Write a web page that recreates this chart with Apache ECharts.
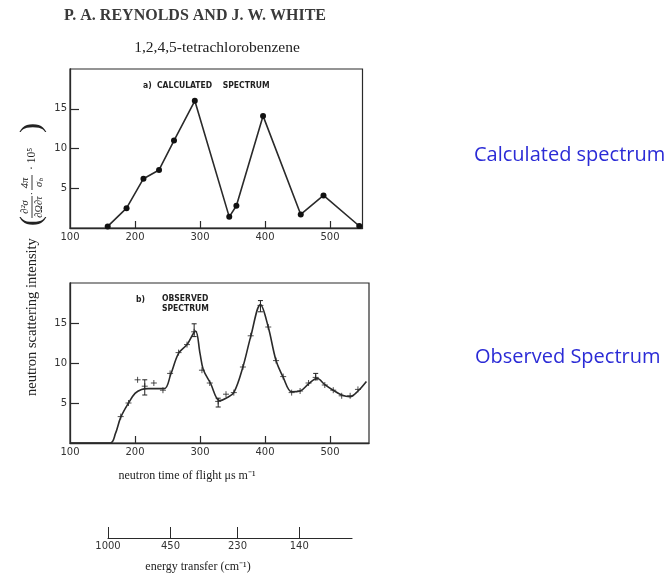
<!DOCTYPE html>
<html>
<head>
<meta charset="utf-8">
<script src="https://cdn.jsdelivr.net/npm/echarts@6/dist/echarts.min.js"></script>
<style>html,body{margin:0;padding:0;background:#fff}#c{width:665px;height:573px}</style>
</head>
<body>
<div id="c"></div>
<script>
// ---- data ----
const calcX = [158, 187, 213, 237, 260, 292, 345, 356, 397, 455, 490, 545];
const calcY = [0.2, 2.5, 6.2, 7.3, 11.0, 16.0, 1.4, 2.8, 14.1, 1.7, 4.1, 0.25];

const obsCurveX = [100, 162, 170, 178, 190, 200, 210, 220, 245, 255, 267, 280, 293, 300, 305, 316, 330, 340, 352, 366, 378, 393, 405, 417, 428, 441, 454, 467, 480, 492, 505, 518, 531, 543, 556];
const obsCurveY = [0, 0, 1.2, 3.2, 5.0, 6.2, 6.7, 6.8, 6.8, 8.6, 11.2, 12.3, 14.0, 11.2, 9.2, 7.5, 5.3, 5.6, 6.3, 9.5, 13.3, 17.3, 14.5, 10.3, 8.2, 6.4, 6.5, 7.4, 8.1, 7.3, 6.6, 6.0, 5.8, 6.5, 7.7];

const obsPtsX = [178, 190, 204, 215, 229, 243, 254, 267, 280, 291, 303, 315, 328, 340, 352, 366, 378, 393, 405, 417, 428, 441, 454, 467, 478, 492, 505, 518, 531, 543];
const obsPtsY = [3.3, 5.0, 7.9, 7.1, 7.5, 6.6, 8.7, 11.3, 12.3, 13.9, 9.1, 7.5, 5.2, 6.1, 6.3, 9.5, 13.4, 17.2, 14.5, 10.3, 8.3, 6.3, 6.5, 7.5, 8.2, 7.25, 6.6, 5.9, 5.9, 6.7];

const errX  = [215, 291, 328, 393, 478];
const errLo = [6.0, 13.3, 4.5, 16.4, 7.9];
const errHi = [7.9, 14.9, 5.6, 17.8, 8.7];

const tofTicks = [200, 300, 400, 500];
const tofLabels = [100, 200, 300, 400, 500];
const intensityTicks = [5, 10, 15];

const energyTof = [158, 254, 357, 452];
const energyLabels = ['1000', '450', '230', '140'];

// ---- chart ----
const ink = '#2a2a2a';
const chart = echarts.init(document.getElementById('c'), null, {renderer: 'canvas'});

function tofAxis(grid, max) {
  return {
    type: 'value', gridIndex: grid, min: 100, max: max, interval: 100,
    axisLine: {show: true, lineStyle: {color: ink, width: 1.3}},
    axisTick: {show: true, inside: true, length: 7, customValues: tofTicks, lineStyle: {color: ink, width: 1.2}},
    axisLabel: {customValues: tofLabels, fontSize: 10, margin: 4, color: '#333', fontFamily: 'DejaVu Sans'},
    splitLine: {show: false}
  };
}
function intAxis(grid) {
  return {
    type: 'value', gridIndex: grid, min: 0, max: 20, interval: 5,
    axisLine: {show: true, lineStyle: {color: ink, width: 1.3}},
    axisTick: {show: true, inside: true, length: 9, customValues: intensityTicks, lineStyle: {color: ink, width: 1.2}},
    axisLabel: {customValues: intensityTicks, fontSize: 10, margin: 3, color: '#333', fontFamily: 'DejaVu Sans'},
    splitLine: {show: false}
  };
}

const plus = 'path://M0,5L10,5M5,0L5,10';
const serif = '"Liberation Serif"';

const option = {
  backgroundColor: '#fff',
  animation: false,
  grid: [
    {left: 70, top: 69, width: 292.5, height: 159, show: true, borderColor: ink, borderWidth: 1.2},
    {left: 70, top: 283, width: 299, height: 160, show: true, borderColor: ink, borderWidth: 1.2},
    {left: 108, top: 528, width: 244, height: 10, show: false}
  ],
  xAxis: [
    tofAxis(0, 550),
    tofAxis(1, 560),
    {
      type: 'value', gridIndex: 2, min: 158, max: 533,
      axisLine: {show: true, lineStyle: {color: ink, width: 1.2}},
      axisTick: {show: true, inside: true, length: 11, customValues: energyTof, lineStyle: {color: ink, width: 1}},
      axisLabel: {customValues: energyTof, fontSize: 10, margin: 3, color: '#333', fontFamily: 'DejaVu Sans',
        formatter: v => energyLabels[energyTof.indexOf(v)]},
      splitLine: {show: false}
    }
  ],
  yAxis: [
    intAxis(0),
    intAxis(1),
    {type: 'value', gridIndex: 2, min: 0, max: 1, show: false}
  ],
  series: [
    {
      type: 'line', xAxisIndex: 0, yAxisIndex: 0,
      data: calcX.map((x, i) => [x, calcY[i]]),
      symbol: 'circle', symbolSize: 6,
      lineStyle: {color: ink, width: 1.6},
      itemStyle: {color: '#111'}
    },
    {
      type: 'line', xAxisIndex: 1, yAxisIndex: 1,
      data: obsCurveX.map((x, i) => [x, obsCurveY[i]]),
      smooth: 0.35, showSymbol: false, symbol: 'none',
      lineStyle: {color: ink, width: 1.6}
    },
    {
      type: 'scatter', xAxisIndex: 1, yAxisIndex: 1,
      data: obsPtsX.map((x, i) => [x, obsPtsY[i]]),
      symbol: plus, symbolSize: 6,
      itemStyle: {color: 'rgba(0,0,0,0)', borderColor: '#222', borderWidth: 1}
    },
    {
      type: 'custom', xAxisIndex: 1, yAxisIndex: 1,
      data: errX.map((x, i) => [x, errLo[i], errHi[i]]),
      encode: {x: 0, y: [1, 2]},
      renderItem: function (params, api) {
        const x = api.value(0);
        const p1 = api.coord([x, api.value(1)]);
        const p2 = api.coord([x, api.value(2)]);
        const st = {stroke: '#222', lineWidth: 1};
        return {type: 'group', children: [
          {type: 'line', shape: {x1: p1[0], y1: p1[1], x2: p2[0], y2: p2[1]}, style: st},
          {type: 'line', shape: {x1: p1[0] - 2.5, y1: p1[1], x2: p1[0] + 2.5, y2: p1[1]}, style: st},
          {type: 'line', shape: {x1: p2[0] - 2.5, y1: p2[1], x2: p2[0] + 2.5, y2: p2[1]}, style: st}
        ]};
      }
    }
  ],
  graphic: [
    {type: 'text', style: {text: 'P. A. REYNOLDS AND J. W. WHITE', x: 195, y: 16,
      align: 'center', verticalAlign: 'middle', font: 'bold 16px ' + serif, fill: '#3a3a3a'}},
    {type: 'text', style: {text: '1,2,4,5-tetrachlorobenzene', x: 217, y: 48, align: 'center', verticalAlign: 'middle',
      font: '15.5px ' + serif, fill: '#222'}},
    {type: 'text', style: {text: 'a)  CALCULATED    SPECTRUM', x: 143, y: 86, align: 'left', verticalAlign: 'middle',
      font: 'bold 8.5px "DejaVu Sans Condensed"', fill: '#222'}},
    {type: 'text', style: {text: 'b)', x: 136, y: 300, align: 'left', verticalAlign: 'middle',
      font: 'bold 8.5px "DejaVu Sans Condensed"', fill: '#222'}},
    {type: 'text', style: {text: 'OBSERVED\nSPECTRUM', x: 162, y: 304, align: 'left', verticalAlign: 'middle', lineHeight: 10,
      font: 'bold 8.5px "DejaVu Sans Condensed"', fill: '#222'}},
    {type: 'text', style: {text: 'neutron time of flight μs m⁻¹', x: 187, y: 476, align: 'center', verticalAlign: 'middle',
      font: '12px ' + serif, fill: '#222'}},
    {type: 'text', style: {text: 'energy transfer (cm⁻¹)', x: 198, y: 567, align: 'center', verticalAlign: 'middle',
      font: '12px ' + serif, fill: '#222'}},
    {type: 'text', style: {text: 'Calculated spectrum', x: 474, y: 155, align: 'left', verticalAlign: 'middle',
      font: '20px "Open Sans"', fill: '#2b2bd6'}},
    {type: 'text', style: {text: 'Observed Spectrum', x: 475, y: 357, align: 'left', verticalAlign: 'middle',
      font: '20px "Open Sans"', fill: '#2b2bd6'}},
    {
      type: 'group', x: 32, y: 396, rotation: Math.PI / 2,
      children: [
        {type: 'text', style: {text: 'neutron scattering intensity', x: 0, y: 0, align: 'left', verticalAlign: 'middle',
          font: '14.5px ' + serif, fill: '#222'}},
        {type: 'text', style: {text: '(', x: 170, y: 0, align: 'left', verticalAlign: 'middle', font: '30px ' + serif, fill: '#222'}},
        {type: 'text', style: {text: '∂²σ', x: 189, y: -7, align: 'center', verticalAlign: 'middle', font: 'italic 10.5px ' + serif, fill: '#222'}},
        {type: 'line', shape: {x1: 178, y1: 0, x2: 200, y2: 0}, style: {stroke: '#222', lineWidth: 0.9}},
        {type: 'text', style: {text: '∂Ω∂τ', x: 189, y: 7, align: 'center', verticalAlign: 'middle', font: 'italic 10.5px ' + serif, fill: '#222'}},
        {type: 'text', style: {text: '·', x: 202.5, y: 0, align: 'center', verticalAlign: 'middle', font: '10px ' + serif, fill: '#222'}},
        {type: 'text', style: {text: '4π', x: 213, y: -7, align: 'center', verticalAlign: 'middle', font: 'italic 10.5px ' + serif, fill: '#222'}},
        {type: 'line', shape: {x1: 206, y1: 0, x2: 221, y2: 0}, style: {stroke: '#222', lineWidth: 0.9}},
        {type: 'text', style: {text: 'σ', x: 211.5, y: 7, align: 'center', verticalAlign: 'middle', font: 'italic 10.5px ' + serif, fill: '#222'}},
        {type: 'text', style: {text: 'b', x: 216.5, y: 9.5, align: 'center', verticalAlign: 'middle', font: 'italic 7px ' + serif, fill: '#222'}},
        {type: 'text', style: {text: '· 10⁵', x: 226, y: 0, align: 'left', verticalAlign: 'middle', font: '11.5px ' + serif, fill: '#222'}},
        {type: 'text', style: {text: ')', x: 263, y: 0, align: 'left', verticalAlign: 'middle', font: '30px ' + serif, fill: '#222'}}
      ]
    }
  ]
};
chart.setOption(option);
</script>
</body>
</html>
